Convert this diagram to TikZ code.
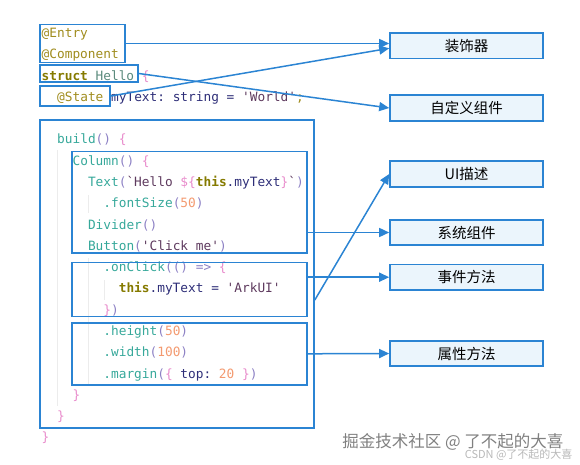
\documentclass[tikz,border=0pt]{standalone}
\usepackage{fontspec}
\setmainfont{Noto Sans CJK SC}
\setmonofont{DejaVu Sans Mono}
\newfontfamily\cjk{Noto Sans CJK SC}
\usetikzlibrary{arrows.meta,positioning}
\definecolor{lineblue}{HTML}{2B84D3}
\definecolor{boxfill}{HTML}{EBF5FC}
\definecolor{anno}{HTML}{A08C1E}
\definecolor{kwc}{HTML}{857A00}
\definecolor{namec}{HTML}{5A8A7C}
\definecolor{fnc}{HTML}{36A89A}
\definecolor{parc}{HTML}{8C80C4}
\definecolor{brc}{HTML}{E88BCB}
\definecolor{idc}{HTML}{2E2E78}
\definecolor{strc}{HTML}{5E3A5E}
\definecolor{numc}{HTML}{F39A70}
\definecolor{guide}{HTML}{ECECEC}
\newcommand{\cAnno}[1]{\textcolor{anno}{#1}}
\newcommand{\cKw}[1]{\textcolor{kwc}{\bfseries #1}}
\newcommand{\cName}[1]{\textcolor{namec}{#1}}
\newcommand{\cFn}[1]{\textcolor{fnc}{#1}}
\newcommand{\cPar}[1]{\textcolor{parc}{#1}}
\newcommand{\cBr}[1]{\textcolor{brc}{#1}}
\newcommand{\cId}[1]{\textcolor{idc}{#1}}
\newcommand{\cStr}[1]{\textcolor{strc}{#1}}
\newcommand{\cNum}[1]{\textcolor{numc}{#1}}
\tikzset{
  code/.style={anchor=base west, inner sep=0pt, font=\ttfamily\fontsize{12.8}{14}\selectfont},
  codebox/.style={draw=lineblue, line width=1.6pt, inner sep=0pt},
  tag/.style={draw=lineblue, line width=1.6pt, fill=boxfill, minimum width=153pt, minimum height=25.5pt,
    inner sep=0pt, font=\cjk\fontsize{14.5}{16}\selectfont},
  link/.style={draw=lineblue, line width=1.5pt, -{Triangle[length=10pt,width=9pt]}},
}
\begin{document}
\begin{tikzpicture}[x=1pt,y=-1pt]
  \useasboundingbox (0,0) rectangle (580,465);
  % indent guides
  \draw[guide, line width=1pt] (57,150) -- (57,406);
  \draw[guide, line width=1pt] (88,195) -- (88,213);
  \draw[guide, line width=1pt] (88,258) -- (88,386);
  \draw[guide, line width=1pt] (104,280) -- (104,300);
  % code
  \node[code] (l1) at (41.5,37.8) {\cAnno{@Entry}};
  \node[code] (l2) at (41.5,59.0) {\cAnno{@Component}};
  \node[code] (l3) at (41.5,80.2) {\cKw{struct} \cName{Hello} \cBr{\{}};
  \node[code] (l4) at (57.0,101.4) {\cAnno{@State} \cId{myText: string =} \cStr{'World'}\cAnno{;}};
  \node[code] (l5) at (57.0,143.8) {\cFn{build}\cPar{()} \cBr{\{}};
  \node[code] (l6) at (72.4,165.1) {\cFn{Column}\cPar{()} \cBr{\{}};
  \node[code] (l7) at (87.8,186.4) {\cFn{Text}\cPar{(}\cStr{`Hello }\cBr{\$\{}\cKw{this}\cId{.myText}\cBr{\}}\cStr{`}\cPar{)}};
  \node[code] (l8) at (103.2,207.7) {\cFn{.fontSize}\cPar{(}\cNum{50}\cPar{)}};
  \node[code] (l9) at (87.8,229.0) {\cFn{Divider}\cPar{()}};
  \node[code] (l10) at (87.8,250.2) {\cFn{Button}\cPar{(}\cStr{'Click me'}\cPar{)}};
  \node[code] (l11) at (103.2,271.5) {\cFn{.onClick}\cPar{(()} \cPar{=>} \cBr{\{}};
  \node[code] (l12) at (118.6,292.8) {\cKw{this}\cId{.myText =} \cStr{'ArkUI'}};
  \node[code] (l13) at (103.2,314.1) {\cBr{\}}\cPar{)}};
  \node[code] (l14) at (103.2,335.4) {\cFn{.height}\cPar{(}\cNum{50}\cPar{)}};
  \node[code] (l15) at (103.2,356.7) {\cFn{.width}\cPar{(}\cNum{100}\cPar{)}};
  \node[code] (l16) at (103.2,378.0) {\cFn{.margin}\cPar{(}\cBr{\{} \cId{top:} \cNum{20} \cBr{\}}\cPar{)}};
  \node[code] (l17) at (72.4,399.3) {\cBr{\}}};
  \node[code] (l18) at (57.0,420.5) {\cBr{\}}};
  \node[code] (l19) at (41.5,441.8) {\cBr{\}}};
  % boxes round the code
  \node[codebox, minimum width=85pt, minimum height=38pt] (entry) at (82.5,43.5) {};
  \node[codebox, minimum width=98pt, minimum height=17pt] (struct) at (89,73.5) {};
  \node[codebox, minimum width=70pt, minimum height=20pt] (state) at (75,96) {};
  \node[codebox, minimum width=274pt, minimum height=308pt] (build) at (177,274) {};
  \node[codebox, minimum width=235pt, minimum height=101pt] (column) at (189.5,202.2) {};
  \node[codebox, minimum width=235pt, minimum height=54pt] (click) at (189.5,289.5) {};
  \node[codebox, minimum width=235pt, minimum height=62pt] (attr) at (189.5,353.8) {};
  % labels
  \node[tag] (deco) at (466.5,45.8) {装饰器};
  \node[tag] (custom) at (466.5,108) {自定义组件};
  \node[tag] (ui) at (466.5,174) {UI描述};
  \node[tag] (sys) at (466.5,232.5) {系统组件};
  \node[tag] (event) at (466.5,277.2) {事件方法};
  \node[tag] (prop) at (466.5,353.5) {属性方法};
  % connectors
  \draw[link] (entry.east) -- (entry.east -| deco.west);
  \draw[link] (state.east) -- ([yshift=-2.5pt]deco.west);
  \draw[link] (struct.east) -- (custom.west);
  \draw[link] ([yshift=-26pt]build.east) -- (ui.west);
  \draw[link] (column.east |- sys.west) -- (sys.west);
  \draw[link] (click.east |- event.west) -- (event.west);
  \draw[link] (attr.east) -- (prop.west);
  % watermark
  \node[anchor=east, text=black!50, font=\cjk\fontsize{16.5}{19}\selectfont] (mark) at (567,442) {掘金技术社区 @ 了不起的大喜};
  \node[anchor=east, text=black!28, font=\cjk\fontsize{11}{12}\selectfont] (csdn) at (576,455) {CSDN @了不起的大喜};
\end{tikzpicture}
\end{document}
